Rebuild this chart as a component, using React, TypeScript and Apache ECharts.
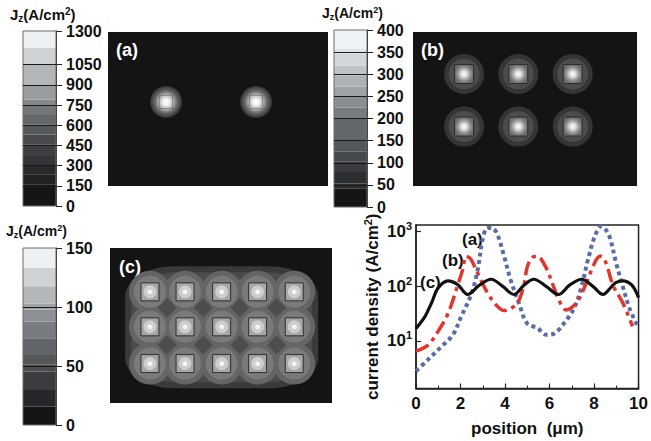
import React, { useEffect, useRef } from "react";
import * as echarts from "echarts";

// ---------- colour bars ----------
const cbATicks = [0, 150, 300, 450, 600, 750, 900, 1050, 1300];
const cbALevels = [0, 161, 235, 305, 371, 458, 532, 607, 676, 750, 792, 899, 1052, 1176, 1300];
const cbBTicks = [0, 50, 100, 150, 200, 250, 300, 350, 400];
const cbBLevels = [0, 41, 53, 79, 102, 125, 151, 200, 225, 251, 272, 296, 319, 347, 358, 400];
const cbCTicks = [0, 50, 100, 150];
const cbCLevels = [0, 15.6, 29.7, 45.3, 51, 59.4, 73.6, 87.7, 97.6, 103, 117.5, 133, 150];

const cbAColors = ["#151515", "#202224", "#28292b", "#333538", "#3c3e41", "#484a4d", "#55585b", "#65686b", "#74777a", "#85888b", "#999c9f", "#b3b6b9", "#cfd2d5", "#eef1f4"];
const cbBColors = ["#151515", "#2a2a2a", "#2c2f32", "#3a3c40", "#45484c", "#53565a", "#63666a", "#787b7f", "#8a8d91", "#9ea1a5", "#afb2b5", "#c1c4c7", "#d3d6d9", "#e2e5e8", "#eef2f5"];
const cbCColors = ["#141414", "#25272a", "#3a3c3f", "#4a4c4f", "#55575a", "#62656a", "#787b7f", "#8d9094", "#a0a3a6", "#b4b7ba", "#cfd2d5", "#eef1f4"];

// ---------- current-density maps (spot centres, arbitrary units 0..10 x 0..7) ----------
const spotsA = [[2.64, 3.82, 1300], [6.73, 3.82, 1300]];
const spotsB = [
  [2.28, 5.09, 400], [4.7, 5.09, 400], [7.13, 5.09, 400],
  [2.28, 2.7, 400], [4.7, 2.7, 400], [7.13, 2.7, 400],
];
const spotsCCols = [1.8, 3.38, 5.03, 6.65, 8.3];
const spotsCRows = [5.02, 3.44, 1.78];
const valleysCCols = [2.57, 4.2, 5.85, 7.5];
const valleysCRows = [4.3, 2.62];
const blobCCentre = [5.03, 3.42];

// ---------- line profiles ----------
const curveAPos = [0, 0.55, 1.14, 1.66, 2.03, 2.48, 2.77, 2.99, 3.21, 3.45, 3.66, 3.96, 4.25, 4.62, 4.99, 5.44, 5.87, 6.18, 6.77, 7.14, 7.44, 7.73, 8.03, 8.32, 8.52, 8.72, 8.99, 9.29, 9.59, 9.96];
const curveAVal = [2.8, 4.6, 7.9, 13, 28, 71, 200, 710, 1175, 1150, 890, 355, 132, 50, 21, 17.4, 13, 13.5, 24.5, 43, 100, 310, 810, 1260, 1100, 760, 270, 100, 40, 18.6];
const curveBPos = [0, 0.55, 0.99, 1.44, 1.88, 2.1, 2.25, 2.45, 2.7, 3.21, 3.66, 3.96, 4.55, 4.85, 4.99, 5.2, 5.44, 5.81, 6.18, 6.4, 6.75, 7.21, 7.59, 7.96, 8.15, 8.32, 8.55, 8.84, 9.29, 9.73];
const curveBVal = [6.5, 8.5, 15, 32, 107, 204, 355, 320, 200, 76, 43, 36, 50, 107, 219, 330, 355, 234, 100, 58, 37, 50, 100, 234, 330, 355, 260, 107, 50, 18.6];
const curveCPos = [0, 0.4, 0.7, 0.99, 1.44, 1.88, 2.32, 2.85, 3.37, 3.9, 4.4, 4.85, 5.29, 5.85, 6.4, 6.9, 7.44, 7.95, 8.4, 8.8, 9.0, 9.29, 9.7, 10];
const curveCVal = [17, 28, 50, 93, 126, 107, 71, 105, 135, 100, 71, 105, 135, 100, 71, 105, 135, 100, 71, 100, 118, 126, 105, 62];

const yTicks = [10, 100, 1000];

const FONT = "'Liberation Sans', Arial, Helvetica, sans-serif";

function zip(xs: number[], ys: number[]) {
  return xs.map((x, i) => [x, ys[i]]);
}

function colourBar(idx: number, levels: number[], colors: string[], ticks: number[]) {
  const series: any[] = [];
  for (let i = 0; i < levels.length - 1; i++) {
    series.push({
      type: "bar",
      xAxisIndex: idx,
      yAxisIndex: idx,
      stack: "cb" + idx,
      barWidth: "100%",
      silent: true,
      data: [levels[i + 1] - levels[i]],
      itemStyle: { color: colors[i] },
    });
  }
  const inner = ticks.slice(1, -1);
  series[series.length - 1].markLine = {
    silent: true,
    symbol: "none",
    label: { show: false },
    lineStyle: { color: "#1a1a1a", width: 1, type: "solid" },
    data: inner.map((v) => ({ yAxis: v })),
  };
  return series;
}

function layer(idx: number, pts: number[][], symbol: string, size: any, itemStyle: any) {
  return {
    type: "scatter",
    xAxisIndex: idx,
    yAxisIndex: idx,
    silent: true,
    symbol,
    symbolSize: size,
    data: pts,
    itemStyle: Object.assign({ opacity: 1 }, itemStyle),
  };
}

function radial(stops: [number, string][]) {
  return {
    type: "radial",
    x: 0.5,
    y: 0.5,
    r: 0.5,
    colorStops: stops.map(([o, c]) => ({ offset: o, color: c })),
  };
}

const jzRich = (fs: number) => ({
  j: { fontFamily: FONT, fontWeight: "bold", fontSize: fs, color: "#111", lineHeight: fs + 2, verticalAlign: "middle" },
  sub: { fontFamily: FONT, fontWeight: "bold", fontSize: fs - 5, color: "#111", lineHeight: fs - 5, verticalAlign: "bottom" },
  sup: { fontFamily: FONT, fontWeight: "bold", fontSize: fs - 5, color: "#111", lineHeight: fs - 5, verticalAlign: "top" },
});
const jzText = "{j|J}{sub|z}{j|(A/cm}{sup|2}{j|)}";

export default function App() {
  const ref = useRef<HTMLDivElement>(null);
  useEffect(() => {
    if (!ref.current) return;
    const chart = echarts.init(ref.current, null, { renderer: "svg" });

    const cbGrid = (left: number, top: number, width: number, height: number) => ({
      left, top, width, height, show: true, z: 3,
      backgroundColor: "transparent", borderColor: "#6a6a6a", borderWidth: 1,
    });
    const mapGrid = (left: number, top: number, width: number, height: number) => ({
      left, top, width, height, show: true, backgroundColor: "#141414", borderWidth: 0,
    });

    const cbX = (idx: number) => ({
      gridIndex: idx, type: "category", data: ["Jz"], show: false, boundaryGap: true,
    });
    const cbY = (idx: number, max: number, ticks: number[]) => ({
      gridIndex: idx, type: "value", min: 0, max, position: "right",
      axisLine: { show: true, lineStyle: { color: "#222", width: 1 } },
      axisTick: { show: true, length: 6, lineStyle: { color: "#222", width: 1 }, customValues: ticks },
      axisLabel: {
        show: true, customValues: ticks, margin: 10, fontSize: 16,
        fontWeight: "bold", color: "#111", fontFamily: FONT,
        formatter: (v: number) => String(v),
      },
      splitLine: { show: false },
    });
    const mapX = (idx: number) => ({ gridIndex: idx, type: "value", min: 0, max: 10, show: false });
    const mapY = (idx: number) => ({ gridIndex: idx, type: "value", min: 0, max: 7, show: false });

    const spotsC: number[][] = [];
    spotsCRows.forEach((y) => spotsCCols.forEach((x) => spotsC.push([x, y, 150])));
    const valleysC: number[][] = [];
    valleysCRows.forEach((y) => valleysCCols.forEach((x) => valleysC.push([x, y])));

    const option: any = {
      animation: false,
      backgroundColor: "#ffffff",
      title: [
        { text: jzText, left: 10, top: 6, padding: 0, textStyle: { rich: jzRich(15) } },
        { text: jzText, left: 322, top: 5, padding: 0, textStyle: { rich: jzRich(14) } },
        { text: jzText, left: 6, top: 223, padding: 0, textStyle: { rich: jzRich(14) } },
      ],
      grid: [
        cbGrid(23, 31, 33, 175),
        mapGrid(108, 32, 220, 154),
        cbGrid(334, 30, 33, 177),
        mapGrid(413, 32, 224, 154),
        cbGrid(23, 248, 33, 177),
        mapGrid(110, 248, 222, 155),
        { left: 416, top: 225, width: 225, height: 163.5, show: true, borderColor: "#222", borderWidth: 1.5, backgroundColor: "transparent" },
      ],
      xAxis: [
        cbX(0), mapX(1), cbX(2), mapX(3), cbX(4), mapX(5),
        {
          gridIndex: 6, type: "value", min: 0, max: 10, interval: 2,
          axisLine: { show: true, lineStyle: { color: "#222", width: 1.5 } },
          axisTick: { show: true, inside: true, length: 5, lineStyle: { color: "#222", width: 1.2 } },
          minorTick: { show: true, splitNumber: 2, length: 3, lineStyle: { color: "#222", width: 1 } },
          axisLabel: { margin: 6, fontSize: 17, fontWeight: "bold", color: "#111", fontFamily: FONT },
          splitLine: { show: false },
          name: "position  (\u03bcm)",
          nameLocation: "middle",
          nameGap: 31,
          nameTextStyle: { fontSize: 17, fontWeight: "bold", color: "#111", fontFamily: FONT },
        },
      ],
      yAxis: [
        cbY(0, 1300, cbATicks), mapY(1), cbY(2, 400, cbBTicks), mapY(3), cbY(4, 150, cbCTicks), mapY(5),
        {
          gridIndex: 6, type: "log", logBase: 10, min: 1.35, max: 1327,
          axisLine: { show: true, lineStyle: { color: "#222", width: 1.5 } },
          axisTick: { show: true, inside: true, length: 5, customValues: yTicks, lineStyle: { color: "#222", width: 1.2 } },
          axisLabel: {
            customValues: yTicks,
            margin: 4,
            formatter: (v: number) => "{b|10}{s|" + Math.round(Math.log10(v)) + "}",
            rich: {
              b: { fontSize: 17, fontWeight: "bold", color: "#111", fontFamily: FONT, lineHeight: 22, verticalAlign: "middle" },
              s: { fontSize: 11, fontWeight: "bold", color: "#111", fontFamily: FONT, lineHeight: 11, verticalAlign: "top" },
            },
          },
          splitLine: { show: false },
          name: "{n|current density (A/cm}{s|2}{n|)}",
          nameLocation: "middle",
          nameGap: 34,
          nameTextStyle: {
            rich: {
              n: { fontSize: 17, fontWeight: "bold", color: "#111", fontFamily: FONT, lineHeight: 20, verticalAlign: "middle" },
              s: { fontSize: 11, fontWeight: "bold", color: "#111", fontFamily: FONT, lineHeight: 11, verticalAlign: "top" },
            },
          },
        },
      ],
      series: [
        ...colourBar(0, cbALevels, cbAColors, cbATicks),
        ...colourBar(2, cbBLevels, cbBColors, cbBTicks),
        ...colourBar(4, cbCLevels, cbCColors, cbCTicks),

        // map (a)
        layer(1, spotsA, "circle", 32, {
          color: radial([[0, "#ffffff"], [0.2, "#f2f2f2"], [0.45, "#b4b4b4"], [0.7, "#666666"], [0.88, "#474747"], [1, "#333333"]]),
        }),
        layer(1, spotsA, "rect", 13, { color: "transparent", borderColor: "rgba(90,90,90,0.5)", borderWidth: 1 }),

        // map (b)
        layer(3, spotsB, "circle", 40, { color: "#353535" }),
        layer(3, spotsB, "circle", 31, { color: "#4c4c4c" }),
        layer(3, spotsB, "rect", 19, {
          color: radial([[0, "#ffffff"], [0.3, "#e0e0e0"], [0.65, "#9a9a9a"], [1, "#6a6a6a"]]),
          borderColor: "#2e2e2e", borderWidth: 1,
        }),

        // map (c)
        layer(5, [blobCCentre], "roundRect", [193, 122], { color: "#3a3a3a" }),
        layer(5, [blobCCentre], "roundRect", [181, 110], { color: "#4b4b4b" }),
        layer(5, spotsC, "circle", 42, { color: "#656565" }),
        layer(5, valleysC, "diamond", [19, 19], { color: "#4d4d4d" }),
        layer(5, spotsC, "circle", 32, { color: "#7a7a7a" }),
        layer(5, spotsC, "rect", 18, { color: "#a6a6a6", borderColor: "#2f2f2f", borderWidth: 1 }),
        layer(5, spotsC, "circle", 13, { color: "#cdcdcd" }),
        layer(5, spotsC, "circle", 5, { color: "#f4f4f4" }),

        // profiles
        {
          type: "line", xAxisIndex: 6, yAxisIndex: 6, name: "(a)",
          data: zip(curveAPos, curveAVal), showSymbol: false, smooth: 0.35,
          lineStyle: { color: "#5a6ca8", width: 4, type: [4, 3.5], cap: "butt" },
        },
        {
          type: "line", xAxisIndex: 6, yAxisIndex: 6, name: "(b)",
          data: zip(curveBPos, curveBVal), showSymbol: false, smooth: 0.35,
          lineStyle: { color: "#e2352d", width: 3.5, type: [14, 5, 4, 5], cap: "butt" },
        },
        {
          type: "line", xAxisIndex: 6, yAxisIndex: 6, name: "(c)",
          data: zip(curveCPos, curveCVal), showSymbol: false, smooth: 0.35,
          lineStyle: { color: "#111111", width: 3.2 },
        },
      ],
      graphic: [
        { type: "text", left: 116, top: 41, style: { text: "(a)", fill: "#ffffff", font: "bold 18px " + FONT } },
        { type: "text", left: 421, top: 41, style: { text: "(b)", fill: "#ffffff", font: "bold 18px " + FONT } },
        { type: "text", left: 119, top: 258, style: { text: "(c)", fill: "#ffffff", font: "bold 18px " + FONT } },
        { type: "text", left: 462, top: 231, style: { text: "(a)", fill: "#111", font: "bold 17px " + FONT } },
        { type: "text", left: 442, top: 252, style: { text: "(b)", fill: "#111", font: "bold 17px " + FONT } },
        { type: "text", left: 420, top: 274, style: { text: "(c)", fill: "#111", font: "bold 17px " + FONT } },
      ],
    };

    chart.setOption(option);
    return () => chart.dispose();
  }, []);

  return (
    <div
      ref={ref}
      style={{ position: "fixed", left: 0, top: 0, width: 651, height: 441, background: "#fff" }}
    />
  );
}
